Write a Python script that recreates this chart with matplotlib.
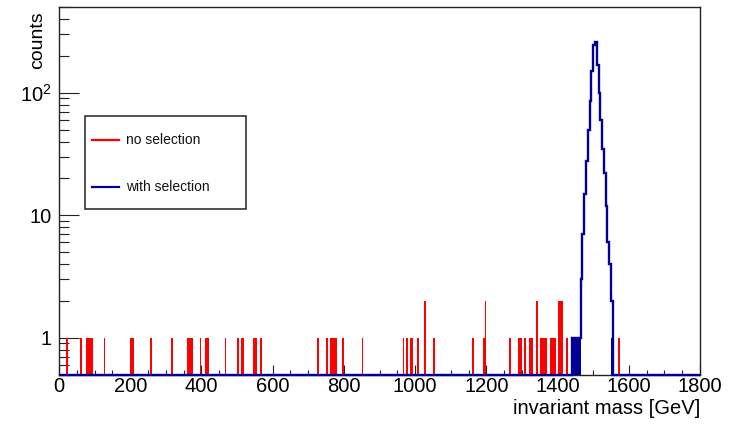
import numpy as np
import matplotlib
matplotlib.use("Agg")
import matplotlib.pyplot as plt
from matplotlib.ticker import FixedLocator, FixedFormatter, MultipleLocator, NullFormatter, LogLocator
from matplotlib.patches import Rectangle
from matplotlib.lines import Line2D

# ---------------- data ----------------
bin_width = 5.0
x_range = (0.0, 1800.0)
y_range = (0.5, 500.0)

# "no selection" (red) – bin centres [GeV] and counts
red_mass = [22.5, 62.5, 77.5, 82.5, 87.5, 92.5, 127.5, 202.5, 207.5, 257.5,
            317.5, 362.5, 367.5, 372.5, 397.5, 412.5, 417.5, 467.5, 502.5,
            512.5, 517.5, 547.5, 552.5, 567.5,
            727.5, 752.5, 762.5, 767.5, 772.5, 777.5, 797.5, 852.5,
            967.5, 977.5, 987.5, 992.5, 1007.5, 1027.5, 1052.5,
            1162.5, 1192.5, 1197.5,
            1267.5, 1292.5, 1297.5, 1307.5, 1322.5, 1327.5, 1342.5,
            1352.5, 1357.5, 1362.5, 1367.5, 1382.5, 1387.5, 1392.5,
            1402.5, 1407.5, 1412.5, 1427.5, 1572.5]
red_counts = [1, 1, 1, 1, 1, 1, 1, 1, 1, 1,
              1, 1, 1, 1, 1, 1, 1, 1, 1,
              1, 1, 1, 1, 1,
              1, 1, 1, 1, 1, 1, 1, 1,
              1, 1, 1, 1, 1, 2, 1,
              1, 1, 2,
              1, 1, 1, 1, 1, 1, 2,
              1, 1, 1, 1, 1, 1, 1,
              2, 2, 2, 1, 1]

# "with selection" (blue) – bin centres [GeV] and counts
blue_mass = [1442.5, 1447.5, 1452.5, 1457.5, 1462.5, 1467.5, 1472.5, 1477.5,
             1482.5, 1487.5, 1492.5, 1497.5, 1502.5, 1507.5, 1512.5, 1517.5,
             1522.5, 1527.5, 1532.5, 1537.5, 1542.5, 1547.5, 1552.5]
blue_counts = [1, 1, 1, 1, 1, 3, 7, 15,
               28, 50, 85, 150, 245, 260, 170, 100,
               60, 35, 22, 12, 6, 4, 2]

legend_labels = ["no selection", "with selection"]
x_title = "invariant mass [GeV]"
y_title = "counts"
x_major_ticks = [0, 200, 400, 600, 800, 1000, 1200, 1400, 1600, 1800]
x_tick_labels = ["0", "200", "400", "600", "800", "1000", "1200", "1400", "1600", "1800"]
y_major_ticks = [1, 10, 100]
y_tick_labels = ["1", "10", r"$10^{2}$"]

# ---------------- style ----------------
plt.rcParams["font.family"] = ["Liberation Sans", "DejaVu Sans"]
plt.rcParams["mathtext.fontset"] = "custom"
plt.rcParams["mathtext.rm"] = "Liberation Sans"
plt.rcParams["mathtext.it"] = "Liberation Sans:italic"
plt.rcParams["mathtext.bf"] = "Liberation Sans:bold"

RED = "#ff0000"
BLUE = "#000099"

W, H = 730, 425
fig = plt.figure(figsize=(W / 100, H / 100), dpi=100)
ax_l, ax_r, ax_t, ax_b = 59, 700, 7.3, 374.5
ax = fig.add_axes([ax_l / W, 1 - ax_b / H, (ax_r - ax_l) / W, (ax_b - ax_t) / H])

edges = np.arange(x_range[0], x_range[1] + bin_width / 2, bin_width)


def make_hist(masses, counts):
    h = np.zeros(len(edges) - 1)
    idx = np.floor((np.asarray(masses) - x_range[0]) / bin_width).astype(int)
    np.add.at(h, idx, np.asarray(counts, dtype=float))
    return h


red_h = make_hist(red_mass, red_counts)
blue_h = make_hist(blue_mass, blue_counts)
floor = y_range[0]

ax.set_yscale("log")
ax.set_xlim(*x_range)
ax.set_ylim(*y_range)

# red histogram (low-count spikes appear solid)
red_vals = np.where(red_h > 0, red_h, floor)
ax.stairs(red_vals, edges, baseline=floor, fill=True, color=RED, lw=1.5, zorder=2)

# blue histogram: low-count bins solid, outline everywhere
blue_low = np.where((blue_h > 0) & (blue_h <= 2), np.minimum(blue_h, 1), floor)
ax.stairs(blue_low, edges, baseline=floor, fill=True, color=BLUE, lw=1.2, zorder=3)
blue_vals = np.where(blue_h > 0, blue_h, floor)
ax.stairs(blue_vals, edges, baseline=floor, fill=False, color=BLUE, lw=1.7,
          zorder=4, clip_on=False)

# ticks
ax.xaxis.set_major_locator(FixedLocator(x_major_ticks))
ax.xaxis.set_major_formatter(FixedFormatter(x_tick_labels))
ax.xaxis.set_minor_locator(MultipleLocator(50))
ax.yaxis.set_major_locator(FixedLocator(y_major_ticks))
ax.yaxis.set_major_formatter(FixedFormatter(y_tick_labels))
ax.yaxis.set_minor_locator(LogLocator(base=10, subs=np.arange(2, 10)))
ax.yaxis.set_minor_formatter(NullFormatter())

ax.tick_params(which="both", direction="in", top=False, right=False,
               color="#222222", width=0.8)
ax.tick_params(axis="x", which="major", length=7.2, labelsize=14.5, pad=1.5)
ax.tick_params(axis="x", which="minor", length=3.6)
ax.tick_params(axis="y", which="major", length=14.4, labelsize=14.5, pad=5.3)
ax.tick_params(axis="y", which="minor", length=7.2)

for s in ax.spines.values():
    s.set_linewidth(1.0)
    s.set_color("#222222")
    s.set_zorder(1)

# axis titles
ax.set_xlabel(x_title, fontsize=14.5, loc="right")
ax.xaxis.set_label_coords(1.0, (ax_b - 398.5) / (ax_b - ax_t))
ax.set_ylabel(y_title, fontsize=14, loc="top")
ax.yaxis.set_label_coords((46 - ax_l) / (ax_r - ax_l), (ax_b - 11) / (ax_b - ax_t))

# legend box (drawn in pixel positions of the reference)
def ax_frac(px, py):
    return ((px - ax_l) / (ax_r - ax_l), (ax_b - py) / (ax_b - ax_t))

x0, y0 = ax_frac(84.7, 209.0)
x1, y1 = ax_frac(245.7, 115.7)
ax.add_patch(Rectangle((x0, y0), x1 - x0, y1 - y0, transform=ax.transAxes,
                       facecolor="white", edgecolor="#222222", lw=1.1, zorder=6))
for label, col, py in zip(legend_labels, [RED, BLUE], [140.5, 187.3]):
    lx0, ly = ax_frac(91.7, py)
    lx1, _ = ax_frac(119.3, py)
    ax.add_line(Line2D([lx0, lx1], [ly, ly], transform=ax.transAxes,
                       color=col, lw=1.6, zorder=7))
    tx, _ = ax_frac(125.7, py)
    ax.text(tx, ly, label, transform=ax.transAxes, fontsize=10,
            va="center", ha="left", zorder=7, color="#111111")

fig.savefig("out.png", dpi=100)
